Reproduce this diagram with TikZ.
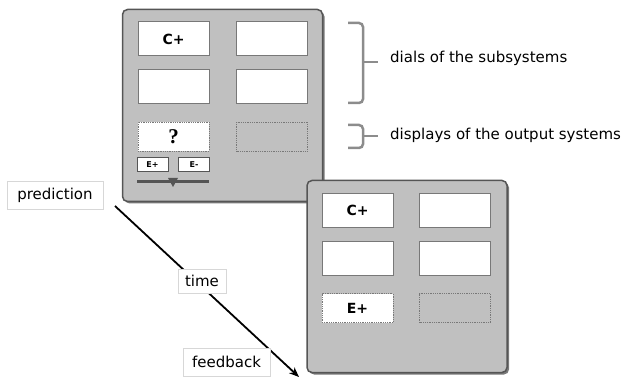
\documentclass[tikz,border=0pt]{standalone}
\usepackage{fontspec}
\setmainfont{DejaVu Sans}
\newfontfamily\qfont{Liberation Serif}
\usetikzlibrary{arrows.meta,shadows}
\definecolor{panelfill}{RGB}{192,192,192}
\definecolor{panelborder}{RGB}{85,85,85}
\definecolor{boxborder}{RGB}{120,120,120}
\definecolor{bracegray}{RGB}{140,140,140}
\definecolor{labelborder}{RGB}{215,215,215}
\tikzset{
  panel/.style={draw=panelborder, fill=panelfill, rounded corners=5pt, line width=1.5pt,
    drop shadow={shadow xshift=2pt, shadow yshift=-2pt, fill=black!75, opacity=0.7},
    minimum width=200pt, minimum height=192pt, inner sep=0pt},
  dial/.style={draw=boxborder, fill=white, line width=1pt, minimum width=71pt, minimum height=34pt,
    inner sep=0pt, font=\fontsize{14}{16}\selectfont\bfseries},
  display/.style={draw=boxborder, line width=0.8pt, densely dotted, minimum width=71pt, minimum height=29pt,
    inner sep=0pt, font=\fontsize{14}{16}\selectfont\bfseries},
  mini/.style={draw=panelborder, fill=white, line width=0.9pt, minimum width=31pt, minimum height=14pt,
    inner sep=0pt, font=\fontsize{8}{9}\selectfont\bfseries},
  tag/.style={draw=labelborder, fill=white, line width=0.8pt, inner sep=0pt, font=\fontsize{15}{17}\selectfont},
  bracestyle/.style={draw=bracegray, line width=2.5pt, rounded corners=4pt},
  note/.style={anchor=base west, inner sep=0pt, font=\fontsize{15}{17}\selectfont}
}
\begin{document}
\begin{tikzpicture}[x=1pt,y=-1pt]
\useasboundingbox (0,0) rectangle (626,379);
% panel 1
\node[panel] (p1) at (222.5,105.5) {};
\node[dial] (a1) at (173.5,39) {C+};
\node[dial] (a2) at (272,39) {};
\node[dial] (a3) at (173.5,87) {};
\node[dial] (a4) at (272,87) {};
\node[display, fill=white, font=\fontsize{21}{23}\selectfont\bfseries\qfont] (a5) at (173.5,136.5) {?};
\node[display, fill=panelfill] (a6) at (272,136.5) {};
\node[mini] (ep) at (152.5,164.5) {E+};
\node[mini] (em) at (194,164.5) {E-};
\coordinate (sl) at (137,181.5);
\coordinate (sr) at (209,181.5);
\draw[panelborder, line width=2.5pt] (sl) -- (sr);
\coordinate (tri) at (173,178);
\fill[panelborder] (tri) ++(-5,0) -- ++(10,0) -- ++(-5,9) -- cycle;
% panel 2
\node[panel] (p2) at (407,276.5) {};
\node[dial] (b1) at (357.5,210.5) {C+};
\node[dial] (b2) at (455,210.5) {};
\node[dial] (b3) at (357.5,258.5) {};
\node[dial] (b4) at (455,258.5) {};
\node[display, fill=white] (b5) at (357.5,308) {E+};
\node[display, fill=panelfill] (b6) at (455,308) {};
% braces
\coordinate (u1) at (348,23);
\coordinate (u2) at (363,23);
\coordinate (u3) at (363,103);
\coordinate (u4) at (348,103);
\coordinate (um) at (363,62);
\coordinate (ut) at (378,62);
\draw[bracestyle] (u1) -- (u2) -- (u3) -- (u4);
\draw[bracestyle] (um) -- (ut);
\coordinate (v1) at (348,125);
\coordinate (v2) at (363,125);
\coordinate (v3) at (363,148);
\coordinate (v4) at (348,148);
\coordinate (vm) at (363,136);
\coordinate (vt) at (378,136);
\draw[bracestyle] (v1) -- (v2) -- (v3) -- (v4);
\draw[bracestyle] (vm) -- (vt);
\node[note] (n1) at (390,63) {dials of the subsystems};
\node[note] (n2) at (390,139.5) {displays of the output systems};
% arrow
\coordinate (as) at (115,206);
\coordinate (ae) at (299,377);
\draw[line width=1.8pt, -{Stealth[length=10pt,width=8pt]}] (as) -- (ae);
\node[tag, minimum width=96pt, minimum height=28pt] (pred) at (55,195) {prediction};
\node[tag, minimum width=48pt, minimum height=24pt] (time) at (202,281) {time};
\node[tag, minimum width=87pt, minimum height=28pt] (fb) at (226.5,362) {feedback};
\end{tikzpicture}
\end{document}
